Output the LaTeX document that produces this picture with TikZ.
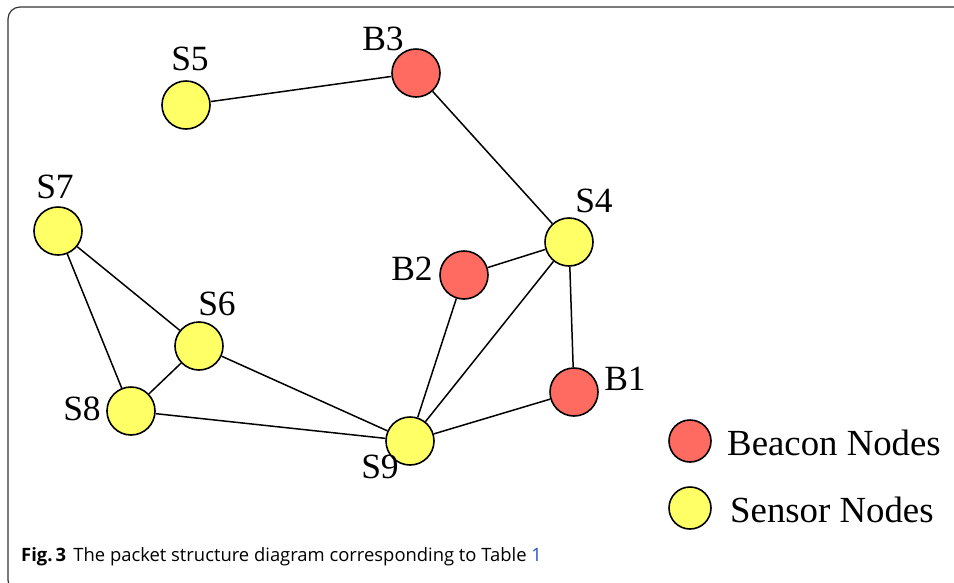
\documentclass[tikz,border=0pt]{standalone}
\usepackage{fontspec}
\setmainfont{Liberation Serif}
\newfontfamily\capfont{Open Sans}
\usepackage{tikz}
\definecolor{beaconred}{HTML}{FF6B60}
\definecolor{sensoryellow}{HTML}{FFFF66}
\definecolor{framegray}{HTML}{333333}
\definecolor{linkblue}{HTML}{2A4FD0}

\begin{document}
\begin{tikzpicture}[x=1pt,y=-1pt]
% Node style
\tikzset{
    beacon/.style={circle,draw,line width=1.6pt,fill=beaconred,minimum size=48pt,inner sep=0pt},
    sensor/.style={beacon,fill=sensoryellow},
    keyb/.style={beacon,minimum size=42pt},
    keys/.style={sensor,minimum size=42pt},
    tag/.style={anchor=base,font=\fontsize{35.5}{42}\selectfont,inner sep=0pt},
    keytext/.style={anchor=base west,font=\fontsize{36.8}{42}\selectfont,inner sep=0pt},
    link/.style={line width=1.5pt}
}
\useasboundingbox (0,0) rectangle (954,582);

% Frame
\begin{scope}
\clip (0,0) rectangle (954,582);
\draw[framegray,line width=1.2pt,rounded corners=12] (8,7) rectangle (990,592);
\end{scope}

% Nodes
\node[sensor] (S5) at (186,105){};
\node[beacon] (B3) at (416,73){};
\node[sensor] (S7) at (58,231){};
\node[sensor] (S4) at (569,242){};
\node[beacon] (B2) at (464,275){};
\node[sensor] (S6) at (199,346){};
\node[beacon] (B1) at (574,392){};
\node[sensor] (S8) at (131,411){};
\node[sensor] (S9) at (410,441){};

% Labels
\node[tag] (S5l) at (190,70){S5};
\node[tag] (B3l) at (383,50){B3};
\node[tag] (S7l) at (55,198){S7};
\node[tag] (S4l) at (594,212){S4};
\node[tag] (B2l) at (412,280){B2};
\node[tag] (S6l) at (217,315){S6};
\node[tag] (B1l) at (625,390){B1};
\node[tag] (S8l) at (82,420){S8};
\node[tag] (S9l) at (380,478){S9};

% Connection
\draw[link] (S5) -- (B3);
\draw[link] (B3) -- (S4);
\draw[link] (S4) -- (B2);
\draw[link] (S4) -- (B1);
\draw[link] (S4) -- (S9);
\draw[link] (B2) -- (S9);
\draw[link] (B1) -- (S9);
\draw[link] (S7) -- (S6);
\draw[link] (S7) -- (S8);
\draw[link] (S6) -- (S8);
\draw[link] (S6) -- (S9);
\draw[link] (S8) -- (S9);

% Legend
\node[keyb] (KB) at (690,441){};
\node[keys] (KS) at (690,508){};
\node[keytext] (KBt) at (727,455){Beacon Nodes};
\node[keytext] (KSt) at (730,522){Sensor Nodes};

% Caption
\node[anchor=base west,font=\capfont\fontsize{18.4}{22}\selectfont,inner sep=0pt] (cap) at (21,561)
    {\textbf{Fig.\,3}\hspace{0.4em}The packet structure diagram corresponding to Table \textcolor{linkblue}{1}};
\end{tikzpicture}
\end{document}
